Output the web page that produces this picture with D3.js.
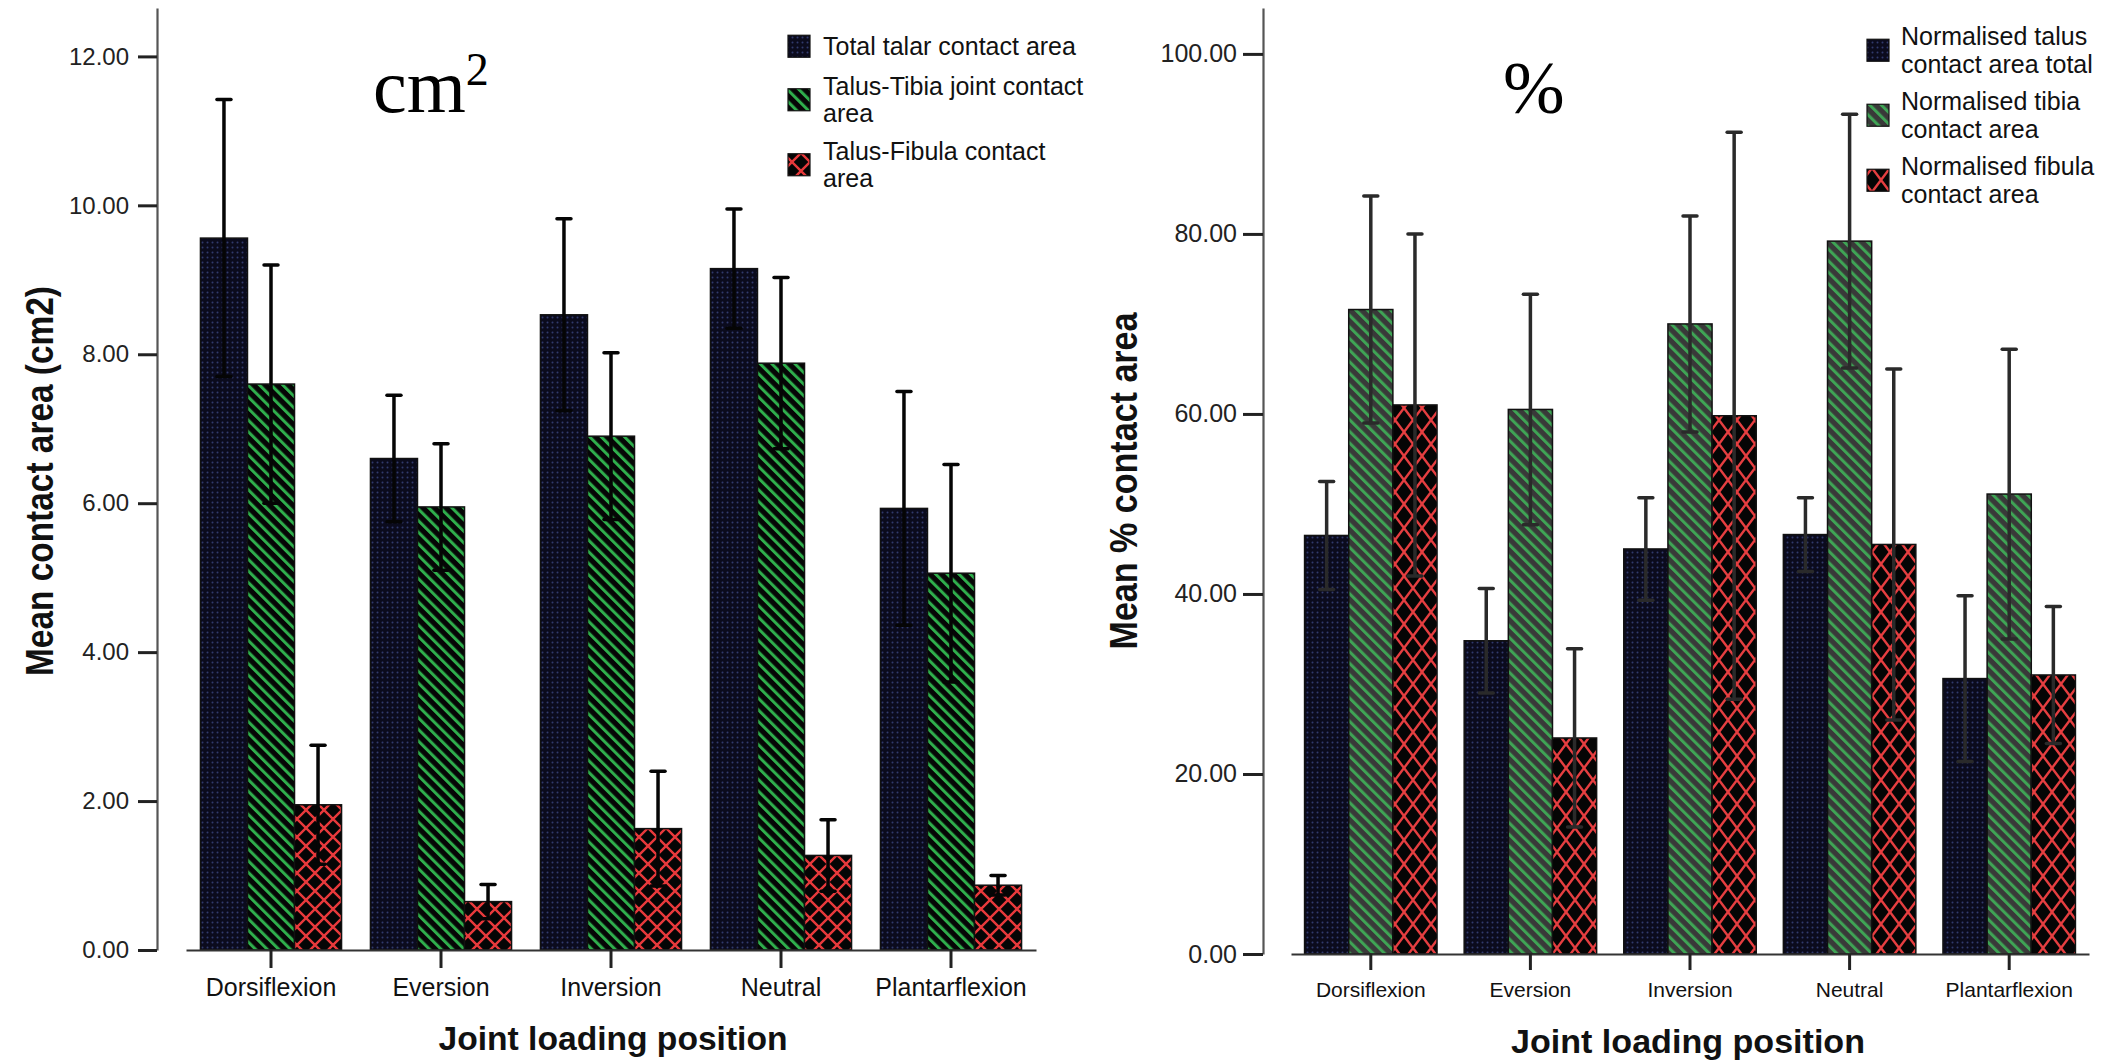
<!DOCTYPE html>
<html><head><meta charset="utf-8">
<script src="https://cdn.jsdelivr.net/npm/d3@7"></script>
<style>body{margin:0;background:#fff}svg{display:block}</style>
</head><body>
<svg id="chart" width="2104" height="1061"></svg>
<script>
// ---------- DATA ----------
const categories = ["Dorsiflexion", "Eversion", "Inversion", "Neutral", "Plantarflexion"];
const seriesKeys = ["total", "tibia", "fibula"];

// Left panel: mean contact area (cm2), mean and SD
const areaTotalMean  = [9.56, 6.60, 8.53, 9.15, 5.93];
const areaTotalSD    = [1.86, 0.85, 1.29, 0.80, 1.57];
const areaTibiaMean  = [7.60, 5.95, 6.90, 7.88, 5.06];
const areaTibiaSD    = [1.60, 0.85, 1.12, 1.15, 1.46];
const areaFibulaMean = [1.95, 0.65, 1.63, 1.27, 0.87];
const areaFibulaSD   = [0.80, 0.23, 0.77, 0.48, 0.13];
const areaTicks = [0, 2, 4, 6, 8, 10, 12];
const areaLegend = [["Total talar contact area"], ["Talus-Tibia joint contact", "area"], ["Talus-Fibula contact", "area"]];

// Right panel: mean % contact area, mean and SD
const pctTotalMean  = [46.5, 34.8, 45.0, 46.6, 30.6];
const pctTotalSD    = [6.0, 5.8, 5.7, 4.1, 9.2];
const pctTibiaMean  = [71.6, 60.5, 70.0, 79.2, 51.1];
const pctTibiaSD    = [12.6, 12.8, 12.0, 14.1, 16.1];
const pctFibulaMean = [61.0, 24.0, 59.8, 45.5, 31.0];
const pctFibulaSD   = [19.0, 9.9, 31.5, 19.5, 7.6];
const pctTicks = [0, 20, 40, 60, 80, 100];
const pctLegend = [["Normalised talus", "contact area total"], ["Normalised tibia", "contact area"], ["Normalised fibula", "contact area"]];

// ---------- DRAWING ----------
const svg = d3.select("#chart");
const defs = svg.append("defs");

function dotPattern(id) {
  const p = defs.append("pattern").attr("id", id).attr("patternUnits", "userSpaceOnUse")
    .attr("width", 5).attr("height", 5);
  p.append("rect").attr("width", 5).attr("height", 5).attr("fill", "#0b0b1d");
  p.append("circle").attr("cx", 2.5).attr("cy", 2.5).attr("r", 1).attr("fill", "#313a6e");
}
function stripePattern(id, bg, fg, period, w) {
  const p = defs.append("pattern").attr("id", id).attr("patternUnits", "userSpaceOnUse")
    .attr("width", period).attr("height", period).attr("patternTransform", "rotate(-45)");
  p.append("rect").attr("width", period).attr("height", period).attr("fill", bg);
  p.append("rect").attr("width", w).attr("height", period).attr("fill", fg);
}
function crossPattern(id, w, h, color, sw) {
  const p = defs.append("pattern").attr("id", id).attr("patternUnits", "userSpaceOnUse")
    .attr("width", w).attr("height", h);
  p.append("rect").attr("width", w).attr("height", h).attr("fill", "#050505");
  p.append("path").attr("d", `M${-w/2},${-h/2}L${w*1.5},${h*1.5}M${w*1.5},${-h/2}L${-w/2},${h*1.5}`)
    .attr("stroke", color).attr("stroke-width", sw).attr("fill", "none");
}
dotPattern("dotsL");
dotPattern("dotsR");
stripePattern("stripesL", "#060606", "#2fae4c", 8.2, 3);
stripePattern("stripesR", "#393939", "#3fa455", 8.2, 3);
crossPattern("crossL", 18, 18, "#e8393b", 2.4);
crossPattern("crossR", 18, 24, "#e63e40", 2.4);

function panel(cfg) {
  const g = svg.append("g");
  const x = d3.scaleBand().domain(categories).range(cfg.xRange).paddingInner(0.17).paddingOuter(0.085);
  const xs = d3.scaleBand().domain(seriesKeys).range([0, x.bandwidth()]);
  const y = d3.scaleLinear().domain(cfg.yDomain).range([cfg.y0, cfg.yTop]);

  const rows = [];
  seriesKeys.forEach((k, si) => {
    categories.forEach((c, ci) => {
      rows.push({ c, k, m: cfg.means[si][ci], sd: cfg.sds[si][ci], fill: cfg.fills[si] });
    });
  });

  // bars
  g.selectAll("rect.bar").data(rows).join("rect").attr("class", "bar")
    .attr("x", d => x(d.c) + xs(d.k))
    .attr("y", d => y(d.m))
    .attr("width", xs.bandwidth())
    .attr("height", d => y(0) - y(d.m))
    .attr("fill", d => `url(#${d.fill})`)
    .attr("stroke", "#111").attr("stroke-width", 1.5);

  // error bars
  const eb = g.selectAll("g.eb").data(rows).join("g").attr("class", "eb")
    .attr("transform", d => `translate(${x(d.c) + xs(d.k) + xs.bandwidth() / 2},0)`);
  eb.append("line").attr("y1", d => y(d.m - d.sd)).attr("y2", d => y(d.m + d.sd))
    .attr("stroke", cfg.errColor).attr("stroke-width", 3.5);
  eb.append("line").attr("x1", -7).attr("x2", 7).attr("y1", d => y(d.m + d.sd)).attr("y2", d => y(d.m + d.sd))
    .attr("stroke", cfg.errColor).attr("stroke-width", 3.5).attr("stroke-linecap", "round");
  eb.append("line").attr("x1", -7).attr("x2", 7).attr("y1", d => y(d.m - d.sd)).attr("y2", d => y(d.m - d.sd))
    .attr("stroke", cfg.errColor).attr("stroke-width", 3.5).attr("stroke-linecap", "round");

  // y axis
  const ya = g.append("g").attr("transform", `translate(${cfg.yAxisX},0)`)
    .call(d3.axisLeft(y).tickValues(cfg.ticks).tickFormat(d3.format(".2f"))
      .tickSize(cfg.yTickLen).tickSizeOuter(0).tickPadding(cfg.yTickPad));
  ya.select(".domain").attr("stroke", "#555").attr("stroke-width", 2.2);
  ya.selectAll(".tick line").attr("stroke", "#222").attr("stroke-width", 3);
  ya.selectAll(".tick text").attr("font-family", "'Liberation Sans', Arial, sans-serif")
    .attr("font-size", cfg.yTickFont).attr("fill", "#222");

  // x axis
  const xa = g.append("g").attr("transform", `translate(0,${cfg.y0})`)
    .call(d3.axisBottom(x).tickSize(cfg.xTickLen).tickSizeOuter(0).tickPadding(cfg.xTickPad));
  xa.select(".domain").attr("stroke", "#333").attr("stroke-width", 2.2);
  xa.selectAll(".tick line").attr("stroke", "#222").attr("stroke-width", 3);
  xa.selectAll(".tick text").attr("font-family", "'Liberation Sans', Arial, sans-serif")
    .attr("font-size", cfg.xTickFont).attr("fill", "#111");

  // axis titles
  g.append("text").attr("transform", `translate(${cfg.yTitleX},${cfg.yTitleY}) rotate(-90)`)
    .attr("text-anchor", "middle").attr("font-family", "'Liberation Sans', Arial, sans-serif")
    .attr("font-weight", "bold").attr("font-size", cfg.yTitleFont)
    .attr("textLength", cfg.yTitleLen).attr("lengthAdjust", "spacingAndGlyphs")
    .attr("fill", "#111").text(cfg.yTitle);
  g.append("text").attr("x", cfg.xTitleX).attr("y", cfg.xTitleY)
    .attr("text-anchor", "middle").attr("font-family", "'Liberation Sans', Arial, sans-serif")
    .attr("font-weight", "bold").attr("font-size", cfg.xTitleFont)
    .attr("textLength", cfg.xTitleLen).attr("lengthAdjust", "spacingAndGlyphs")
    .attr("fill", "#111").text("Joint loading position");

  // legend
  const lg = g.append("g");
  cfg.legend.forEach((lines, i) => {
    const base = cfg.legY[i];
    const mid = base - cfg.legFont * 0.35 + (lines.length - 1) * cfg.legLine / 2;
    lg.append("rect").attr("x", cfg.legX).attr("y", mid - 11).attr("width", 22).attr("height", 22)
      .attr("fill", `url(#${cfg.fills[i]})`).attr("stroke", "#111").attr("stroke-width", 1.2);
    const t = lg.append("text").attr("font-family", "'Liberation Sans', Arial, sans-serif")
      .attr("font-size", cfg.legFont).attr("fill", "#111");
    lines.forEach((ln, j) => {
      t.append("tspan").attr("x", cfg.legX + cfg.legTextDx).attr("y", base + j * cfg.legLine).text(ln);
    });
  });
}

panel({
  xRange: [186, 1036], yDomain: [0, 12.65], y0: 950, yTop: 8,
  means: [areaTotalMean, areaTibiaMean, areaFibulaMean],
  sds: [areaTotalSD, areaTibiaSD, areaFibulaSD],
  fills: ["dotsL", "stripesL", "crossL"], errColor: "#050505",
  ticks: areaTicks, yAxisX: 157, yTickLen: 19, yTickPad: 9, yTickFont: 24,
  xTickLen: 18, xTickPad: 10, xTickFont: 25,
  yTitle: "Mean contact area (cm2)", yTitleX: 53, yTitleY: 481, yTitleFont: 38, yTitleLen: 390,
  xTitleX: 613, xTitleY: 1050, xTitleFont: 33, xTitleLen: 349,
  legend: areaLegend, legX: 788, legTextDx: 35, legY: [55, 95, 160], legFont: 25, legLine: 27
});

panel({
  xRange: [1291, 2089], yDomain: [0, 105.1], y0: 954, yTop: 8,
  means: [pctTotalMean, pctTibiaMean, pctFibulaMean],
  sds: [pctTotalSD, pctTibiaSD, pctFibulaSD],
  fills: ["dotsR", "stripesR", "crossR"], errColor: "#2a2a2a",
  ticks: pctTicks, yAxisX: 1263, yTickLen: 20, yTickPad: 6, yTickFont: 25,
  xTickLen: 16, xTickPad: 12, xTickFont: 21,
  yTitle: "Mean % contact area", yTitleX: 1137, yTitleY: 481, yTitleFont: 38, yTitleLen: 337,
  xTitleX: 1688, xTitleY: 1053, xTitleFont: 33, xTitleLen: 354,
  legend: pctLegend, legX: 1867, legTextDx: 34, legY: [45, 110, 175], legFont: 25, legLine: 28
});

// unit annotations
svg.append("text").attr("x", 373).attr("y", 112).attr("font-family", "'Liberation Serif', 'Times New Roman', serif")
  .attr("font-size", 76).attr("fill", "#000").text("cm")
  .append("tspan").attr("font-size", 46).attr("dy", -27).text("2");
svg.append("text").attr("x", 1503).attr("y", 113).attr("font-family", "'Liberation Serif', 'Times New Roman', serif")
  .attr("font-size", 74).attr("fill", "#000").text("%");
</script>
</body></html>
